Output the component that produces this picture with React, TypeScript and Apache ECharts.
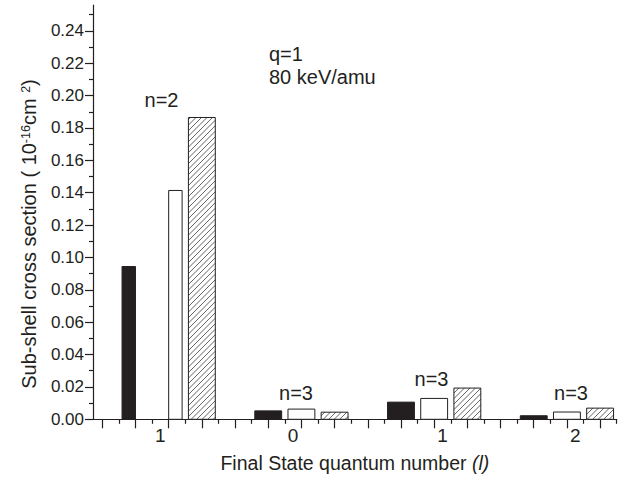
import React, { useEffect, useRef } from 'react';
import * as echarts from 'echarts';

// ---- data ----
const categories = ['1', '0', '1', '2']; // final-state l
const shellLabels = ['n=2', 'n=3', 'n=3', 'n=3'];
const solidValues = [0.0944, 0.0052, 0.0106, 0.0022]; // black bars
const openValues = [0.1414, 0.0063, 0.0129, 0.0045]; // white bars
const hatchValues = [0.1865, 0.0044, 0.0193, 0.0069]; // hatched bars
const yTickValues = [0, 0.02, 0.04, 0.06, 0.08, 0.1, 0.12, 0.14, 0.16, 0.18, 0.2, 0.22, 0.24];
const yMinorValues = [0.01, 0.03, 0.05, 0.07, 0.09, 0.11, 0.13, 0.15, 0.17, 0.19, 0.21, 0.23, 0.25];
const annotationLines = ['q=1', '80 keV/amu'];

// ---- layout constants ----
const INK = '#231f20';
const FONT = '"Liberation Sans", Arial, Helvetica, sans-serif';
const GROUP_STEP = 8;
const BAR_STEP = 2;
const BAR_W = 1.62;
const HATCH_P = 5.5;
const xMajor = Array.from({ length: 16 }, (_, i) => i * 2);
const xMinor = Array.from({ length: 16 }, (_, i) => i * 2 + 1);
const labelPositions = categories.map((_, i) => i * GROUP_STEP + 4 + (i < 2 ? -0.5 : 0.5));

function makeRender(kind: 'solid' | 'open' | 'hatch', firstHalf: 'left' | 'right' | null) {
  return (params: any, api: any) => {
    const x = api.value(0) as number;
    const v = api.value(1) as number;
    let xl = x - BAR_W / 2;
    let xr = x + BAR_W / 2;
    if (params.dataIndex === 0 && firstHalf === 'left') xr = x;
    if (params.dataIndex === 0 && firstHalf === 'right') xl = x;
    const p0 = api.coord([xl, v]);
    const p1 = api.coord([xr, 0]);
    const x0 = p0[0], y0 = p0[1], x1 = p1[0], y1 = p1[1];
    const children: any[] = [];
    children.push({
      type: 'rect',
      shape: { x: x0, y: y0, width: x1 - x0, height: y1 - y0 },
      style: { fill: kind === 'solid' ? INK : '#ffffff', stroke: INK, lineWidth: 1 },
    });
    if (kind === 'hatch') {
      const cStart = Math.ceil((x0 + y0) / HATCH_P) * HATCH_P;
      for (let c = cStart; c <= x1 + y1; c += HATCH_P) {
        const xa = Math.max(x0, c - y1);
        const xb = Math.min(x1, c - y0);
        if (xb - xa > 0.3) {
          children.push({
            type: 'line',
            shape: { x1: xa, y1: c - xa, x2: xb, y2: c - xb },
            style: { stroke: INK, lineWidth: 0.7 },
          });
        }
      }
    }
    return { type: 'group', children };
  };
}

function barData(values: number[], offset: number) {
  return values.map((v, i) => [i * GROUP_STEP + offset, v]);
}

const textStyle = (size: number) => ({ fontFamily: FONT, fontSize: size, fill: INK });

const option: any = {
  animation: false,
  backgroundColor: '#ffffff',
  grid: { left: 93, right: 12.3, top: 5, bottom: 64.7, containLabel: false, outerBoundsMode: 'none' },
  xAxis: [
    {
      type: 'value',
      min: -0.56,
      max: 31,
      position: 'bottom',
      axisLine: { show: true, onZero: false, lineStyle: { color: INK, width: 1.2 } },
      axisTick: { show: true, inside: false, length: 9, customValues: xMajor, lineStyle: { color: INK, width: 1.2 } },
      axisLabel: {
        show: true,
        customValues: labelPositions,
        margin: 7,
        color: INK,
        fontSize: 19,
        fontFamily: FONT,
        formatter: (val: number) => {
          const idx = labelPositions.findIndex((p) => Math.abs(p - val) < 1e-6);
          return idx >= 0 ? categories[idx] : '';
        },
      },
      splitLine: { show: false },
      name: 'Final State quantum number {i|(l)}',
      nameLocation: 'middle',
      nameGap: 34,
      nameTextStyle: {
        color: INK,
        fontSize: 19.5,
        fontFamily: FONT,
        rich: { i: { fontStyle: 'italic', fontSize: 19.5, fontFamily: FONT, color: INK } },
      },
    },
    {
      type: 'value',
      min: -0.56,
      max: 31,
      position: 'bottom',
      axisLine: { show: false, onZero: false },
      axisTick: { show: true, inside: false, length: 4.5, customValues: xMinor, lineStyle: { color: INK, width: 1.2 } },
      axisLabel: { show: false },
      splitLine: { show: false },
    },
  ],
  yAxis: [
    {
      type: 'value',
      min: 0,
      max: 0.256,
      position: 'left',
      axisLine: { show: true, onZero: false, lineStyle: { color: INK, width: 1.2 } },
      axisTick: { show: true, inside: false, length: 8, customValues: yTickValues, lineStyle: { color: INK, width: 1.2 } },
      axisLabel: {
        show: true,
        customValues: yTickValues,
        margin: 9,
        color: INK,
        fontSize: 17,
        fontFamily: FONT,
        formatter: (v: number) => v.toFixed(2),
      },
      splitLine: { show: false },
    },
    {
      type: 'value',
      min: 0,
      max: 0.256,
      position: 'left',
      axisLine: { show: false, onZero: false },
      axisTick: { show: true, inside: false, length: 4, customValues: yMinorValues, lineStyle: { color: INK, width: 1.2 } },
      axisLabel: { show: false },
      splitLine: { show: false },
    },
  ],
  series: [
    {
      type: 'custom',
      name: 'solid',
      xAxisIndex: 0,
      yAxisIndex: 0,
      renderItem: makeRender('solid', 'left'),
      encode: { x: 0, y: 1 },
      data: barData(solidValues, BAR_STEP * 1),
    },
    {
      type: 'custom',
      name: 'open',
      xAxisIndex: 0,
      yAxisIndex: 0,
      renderItem: makeRender('open', 'right'),
      encode: { x: 0, y: 1 },
      data: barData(openValues, BAR_STEP * 2),
    },
    {
      type: 'custom',
      name: 'hatch',
      xAxisIndex: 0,
      yAxisIndex: 0,
      renderItem: makeRender('hatch', null),
      encode: { x: 0, y: 1 },
      data: barData(hatchValues, BAR_STEP * 3),
    },
  ],
  graphic: [
    {
      type: 'text',
      x: 29,
      y: 234,
      rotation: Math.PI / 2,
      style: {
        text: '{t|Sub-shell cross section ( 10}{s|-16}{t|cm }{s|2}{t|)}',
        align: 'center',
        verticalAlign: 'middle',
        fill: INK,
        fontFamily: FONT,
        fontSize: 20,
        rich: {
          t: { ...textStyle(20) },
          s: { ...textStyle(12.5), verticalAlign: 'top' },
        },
      },
    },
    { type: 'text', x: 269, y: 54, style: { text: annotationLines[0], ...textStyle(20), align: 'left', verticalAlign: 'middle' } },
    { type: 'text', x: 269, y: 77, style: { text: annotationLines[1], ...textStyle(20), align: 'left', verticalAlign: 'middle' } },
    { type: 'text', x: 161.5, y: 100, style: { text: shellLabels[0], ...textStyle(20), align: 'center', verticalAlign: 'middle' } },
    { type: 'text', x: 296, y: 393, style: { text: shellLabels[1], ...textStyle(20), align: 'center', verticalAlign: 'middle' } },
    { type: 'text', x: 431.5, y: 378.5, style: { text: shellLabels[2], ...textStyle(20), align: 'center', verticalAlign: 'middle' } },
    { type: 'text', x: 571, y: 392.5, style: { text: shellLabels[3], ...textStyle(20), align: 'center', verticalAlign: 'middle' } },
  ],
};

export default function App() {
  const ref = useRef<HTMLDivElement>(null);
  useEffect(() => {
    if (!ref.current) return;
    const chart = echarts.init(ref.current, null, { renderer: 'svg' });
    chart.setOption(option);
    return () => chart.dispose();
  }, []);
  return (
    <div
      ref={ref}
      style={{ position: 'fixed', left: 0, top: 0, width: 629, height: 484, background: '#ffffff' }}
    />
  );
}
